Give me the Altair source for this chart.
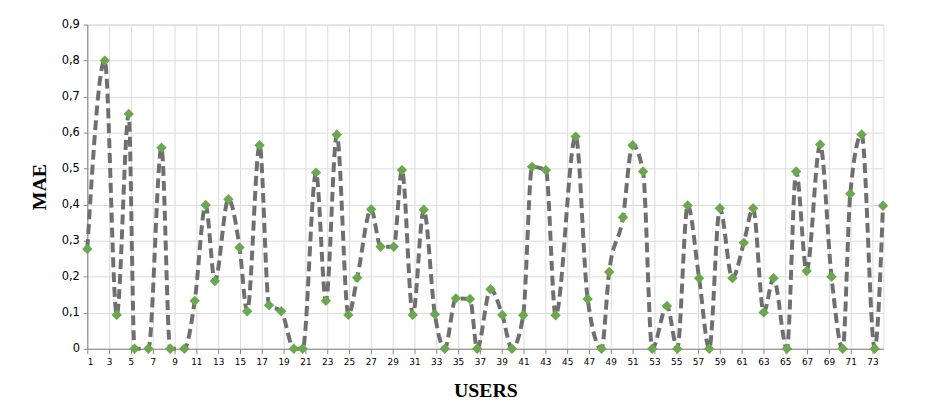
import altair as alt
import pandas as pd

users = [1.0, 2.6, 3.7, 4.8, 5.33, 6.6, 7.8, 8.6, 9.9, 10.85, 11.85, 12.7,
         13.94, 14.96, 15.66, 16.8, 17.66, 18.78, 19.94, 20.75, 21.97, 22.88, 23.88, 24.94,
         25.75, 27.03, 27.9, 29.1, 29.85, 30.85, 31.85, 32.87, 33.78, 34.8, 36.09, 36.75,
         37.97, 39.05, 39.94, 40.97, 41.78, 43.05, 43.94, 45.78, 46.88, 48.15, 48.85, 50.12,
         51.0, 51.96, 52.8, 54.15, 55.1, 56.05, 57.1, 58.03, 59.0, 60.15, 61.2, 62.05,
         63.02, 63.93, 65.15, 66.0, 66.96, 68.2, 69.24, 70.27, 70.96, 72.0, 73.2, 73.96]
mae = [0.277, 0.80, 0.094, 0.652, 0.0, 0.0, 0.558, 0.0, 0.0, 0.133, 0.399, 0.188,
       0.415, 0.281, 0.104, 0.565, 0.121, 0.104, 0.0, 0.0, 0.489, 0.133, 0.594, 0.094,
       0.197, 0.387, 0.283, 0.283, 0.496, 0.094, 0.386, 0.096, 0.0, 0.14, 0.138, 0.0,
       0.165, 0.094, 0.0, 0.093, 0.505, 0.496, 0.093, 0.589, 0.138, 0.0, 0.213, 0.365,
       0.565, 0.492, 0.0, 0.119, 0.0, 0.398, 0.196, 0.0, 0.390, 0.196, 0.294, 0.390,
       0.101, 0.196, 0.0, 0.492, 0.216, 0.567, 0.2, 0.0, 0.430, 0.595, 0.0, 0.397]

x_ticks = list(range(1, 75, 2))
y_ticks = [round(i * 0.1, 1) for i in range(10)]

df = pd.DataFrame({"user": users, "mae": mae})

x_enc = alt.X("user:Q", scale=alt.Scale(domain=[1, 74], nice=False, zero=False),
              axis=alt.Axis(values=x_ticks, title="USERS", grid=True, gridColor="#dcdcdc",
                            domainColor="#868686", tickColor="#868686", tickSize=5,
                            labelFont="DejaVu Sans", labelFontSize=9, labelColor="#000000",
                            labelPadding=4,
                            titleFont="Liberation Serif", titleFontSize=20, titleFontWeight="bold",
                            titleColor="#000000", titlePadding=14))
y_enc = alt.Y("mae:Q", scale=alt.Scale(domain=[0, 0.9], nice=False),
              axis=alt.Axis(values=y_ticks, title="MAE", grid=True, gridColor="#dcdcdc",
                            domainColor="#868686", tickColor="#868686", tickSize=4,
                            labelExpr="datum.value == 0 ? '0' : replace(format(datum.value, '.1f'), '.', ',')",
                            labelFont="DejaVu Sans", labelFontSize=11.5, labelColor="#000000",
                            labelPadding=4,
                            titleFont="Liberation Serif", titleFontSize=20, titleFontWeight="bold",
                            titleColor="#000000", titlePadding=12))

line = alt.Chart(df).mark_line(interpolate="monotone", color="#6f6f6f", strokeWidth=4,
                               strokeDash=[10, 5]).encode(x=x_enc, y=y_enc)
pts = alt.Chart(df).mark_point(shape="diamond", filled=True, size=110, color="#6aa84f",
                               opacity=1).encode(x=x_enc, y=y_enc)

chart = (line + pts).properties(
    width=803, height=327,
    autosize=alt.AutoSizeParams(type="none"),
    padding={"left": 80, "top": 15, "right": 48, "bottom": 53},
).configure_view(stroke=None).configure(background="white")

chart.save("out.html", embed_options={"renderer": "svg", "actions": False})
